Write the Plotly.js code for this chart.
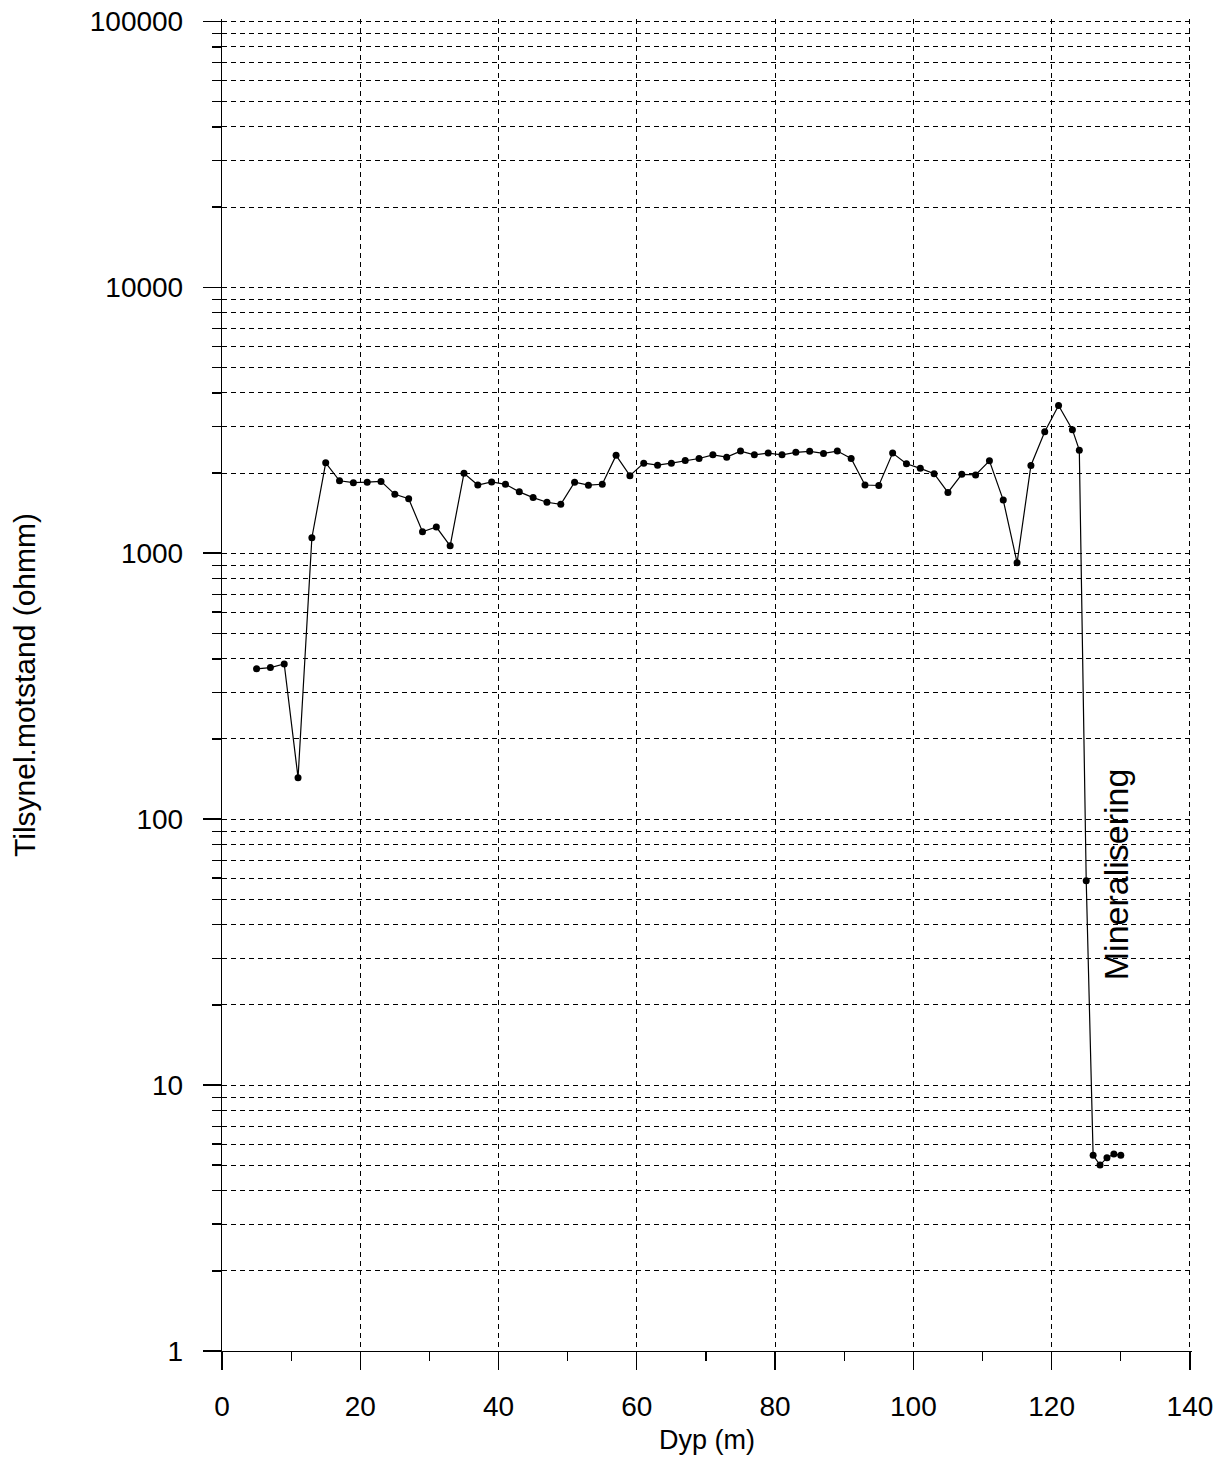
<!DOCTYPE html>
<html>
<head>
<meta charset="utf-8">
<script src="https://cdn.plot.ly/plotly-3.0.1.min.js"></script>
<style>
  html, body { margin: 0; padding: 0; background: #ffffff; }
  #chart { width: 1225px; height: 1458px; }
</style>
</head>
<body>
<div id="chart"></div>
<script>
// Depth (m)
const depth = [5, 7, 9, 11, 13, 15, 17, 19, 21, 23, 25, 27, 29, 31, 33, 35, 37, 39, 41, 43,
  45, 47, 49, 51, 53, 55, 57, 59, 61, 63, 65, 67, 69, 71, 73, 75, 77, 79, 81, 83,
  85, 87, 89, 91, 93, 95, 97, 99, 101, 103, 105, 107, 109, 111, 113, 115, 117, 119, 121, 123,
  124, 125, 126, 127, 128, 129, 130];
// Apparent resistivity (ohmm)
const resistivity = [367, 371, 383, 143, 1142, 2184, 1870, 1839, 1847, 1860, 1663, 1601, 1203, 1253, 1065, 1995, 1803, 1851, 1814, 1699,
  1617, 1553, 1525, 1847, 1800, 1814, 2330, 1954, 2178, 2140, 2178, 2230, 2268, 2340, 2294, 2418, 2340, 2376, 2340, 2392,
  2413, 2370, 2418, 2268, 1803, 1795, 2376, 2166, 2082, 1987, 1690, 1977, 1967, 2222, 1582, 920, 2135, 2858, 3590, 2911,
  2438, 58.6, 5.44, 5.0, 5.33, 5.5, 5.45];

const yTickVals = [1, 10, 100, 1000, 10000, 100000];
const yTickText = ["1", "10", "100", "1000", "10000", "100000"];
const xTickVals = [0, 20, 40, 60, 80, 100, 120, 140];
const xTickText = ["0", "20", "40", "60", "80", "100", "120", "140"];

const annotationText = "Mineralisering";
const annotationX = 129.3;
const annotationY = 62;

const FONT = '"Liberation Sans", Arial, Helvetica, sans-serif';

const trace = {
  x: depth,
  y: resistivity,
  type: 'scatter',
  mode: 'lines+markers',
  line: { color: '#000000', width: 1.2 },
  marker: { color: '#000000', size: 7 },
  showlegend: false,
  hoverinfo: 'x+y'
};

const layout = {
  width: 1225,
  height: 1458,
  margin: { l: 222, r: 33, t: 19, b: 107, pad: 0 },
  paper_bgcolor: '#ffffff',
  plot_bgcolor: '#ffffff',
  font: { family: FONT, color: '#000000', size: 27 },
  showlegend: false,
  xaxis: {
    range: [0, 140.3],
    tickmode: 'array',
    tickvals: xTickVals,
    ticktext: xTickText,
    ticks: 'outside',
    ticklen: 18,
    tickwidth: 1.2,
    tickcolor: '#000000',
    tickfont: { family: FONT, size: 28, color: '#000000' },
    ticklabelstandoff: 12,
    showline: true,
    linecolor: '#000000',
    linewidth: 1.2,
    showgrid: true,
    gridcolor: '#000000',
    gridwidth: 1,
    griddash: '5px,4px',
    zeroline: false,
    minor: {
      dtick: 10,
      ticks: 'outside',
      ticklen: 9,
      tickwidth: 1.2,
      tickcolor: '#000000',
      showgrid: false
    },
    title: { text: 'Dyp (m)', font: { family: FONT, size: 27, color: '#000000' }, standoff: 9 },
    fixedrange: true
  },
  yaxis: {
    type: 'log',
    range: [0, 5.008],
    tickmode: 'array',
    tickvals: yTickVals,
    ticktext: yTickText,
    ticks: 'outside',
    ticklen: 18,
    tickwidth: 1.2,
    tickcolor: '#000000',
    tickfont: { family: FONT, size: 28, color: '#000000' },
    ticklabelstandoff: 14,
    showline: true,
    linecolor: '#000000',
    linewidth: 1.2,
    showgrid: true,
    gridcolor: '#000000',
    gridwidth: 1,
    griddash: '5px,4px',
    zeroline: false,
    minor: {
      dtick: 'D1',
      ticks: 'outside',
      ticklen: 9,
      tickwidth: 1.2,
      tickcolor: '#000000',
      showgrid: true,
      gridcolor: '#000000',
      gridwidth: 1,
      griddash: '5px,4px'
    },
    title: { text: 'Tilsynel.motstand (ohmm)', font: { family: FONT, size: 30, color: '#000000' }, standoff: 45 },
    fixedrange: true
  },
  annotations: [{
    x: annotationX,
    y: Math.log10(annotationY),
    xref: 'x',
    yref: 'y',
    text: annotationText,
    showarrow: false,
    textangle: -90,
    font: { family: FONT, size: 34, color: '#000000' },
    xanchor: 'center',
    yanchor: 'middle'
  }]
};

Plotly.newPlot('chart', [trace], layout, { displayModeBar: false, staticPlot: true });
</script>
</body>
</html>
